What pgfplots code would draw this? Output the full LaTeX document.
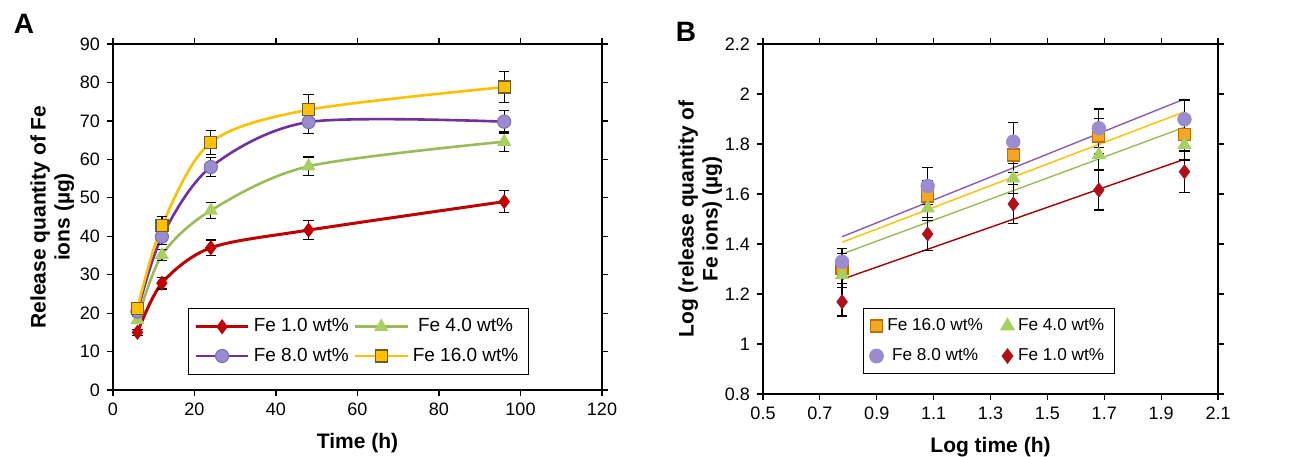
\documentclass[border=0pt]{standalone}
\usepackage{fontspec}
\setmainfont{Liberation Sans}
\usepackage{pgfplots}
\pgfplotsset{compat=1.18}

\definecolor{cred}{RGB}{192,0,0}
\definecolor{cpurple}{RGB}{112,48,160}
\definecolor{cpurplefill}{RGB}{155,140,210}
\definecolor{cgreen}{RGB}{155,187,89}
\definecolor{cgreenfill}{RGB}{168,208,96}
\definecolor{cyellow}{RGB}{255,192,0}
\definecolor{cyellowedge}{RGB}{110,95,40}
\definecolor{corange}{RGB}{245,166,35}
\definecolor{corangeedge}{RGB}{190,110,0}
\definecolor{cdiam}{RGB}{176,16,26}

\pgfplotsset{
  panel/.style={
    scale only axis,
    axis line style={line width=0.8pt},
    tick align=outside,
    tick style={black, line width=0.6pt},
    major tick length=3pt,
    font=\fontsize{9}{10}\selectfont,
    label style={font=\bfseries\fontsize{10.5}{12}\selectfont},
    ylabel style={align=center, yshift=-4pt},
    xlabel style={yshift=-2pt},
    /pgf/number format/assume math mode=true,
    legend style={draw=black, line width=0.6pt, font=\fontsize{9.5}{11}\selectfont,
      legend columns=2, row sep=2.5pt, inner ysep=3pt, inner xsep=3pt,
      /tikz/every even column/.append style={column sep=0.5pt}},
  },
  longline/.style={legend image code/.code={
    \draw[mark repeat=2,mark phase=2] plot coordinates {(0cm,0cm)(0.46cm,0cm)(0.92cm,0cm)};}},
  ebar/.style={error bars/.cd, y dir=both, y explicit,
    error bar style={black, line width=0.6pt},
    error mark options={black, rotate=90, mark size=2.6pt, line width=0.6pt}},
}

\begin{document}
\begin{tikzpicture}
\useasboundingbox (0,0) rectangle (653.5pt,-228pt);

\node[font=\bfseries\fontsize{14}{14}\selectfont] at (12pt,-12pt) {A};
\node[font=\bfseries\fontsize{14}{14}\selectfont] at (343pt,-16pt) {B};

% panel A
\begin{axis}[panel, longline,
  at={(56.5pt,-195pt)}, anchor=south west,
  width=244.5pt, height=173pt,
  xmin=0, xmax=120, ymin=0, ymax=90,
  xtick={0,20,...,120}, ytick={0,10,...,90},
  xlabel={Time (h)},
  ylabel={Release quantity of Fe\\ions (µg)},
  legend style={at={(0.153,0.237)}, anchor=north west},
]
\addplot[cred, line width=1.5pt, smooth, mark=diamond*, mark size=3.4pt,
  mark options={fill=cred, line width=0.5pt}, ebar] coordinates {
  (6,15) +- (0,0.8)
  (12,27.8) +- (0,1.5)
  (24,37) +- (0,2)
  (48,41.6) +- (0,2.5)
  (96,49) +- (0,2.9)
};
\addlegendentry{Fe 1.0 wt\%}
\addplot[cgreen, line width=1.3pt, smooth, mark=triangle*, mark size=3.6pt,
  mark options={fill=cgreenfill, draw=cgreenfill, line width=0.5pt}, ebar] coordinates {
  (6,18.2) +- (0,1)
  (12,35.1) +- (0,1.5)
  (24,46.7) +- (0,2)
  (48,58.2) +- (0,2.4)
  (96,64.6) +- (0,2.5)
};
\addlegendentry{Fe 4.0 wt\%}
\addplot[cpurple, line width=1.3pt, smooth, mark=*, mark size=3.3pt,
  mark options={fill=cpurplefill, draw=cpurplefill!80!black, line width=0.5pt}, ebar] coordinates {
  (6,20.4) +- (0,1)
  (12,39.9) +- (0,2)
  (24,58) +- (0,2.4)
  (48,69.7) +- (0,3)
  (96,69.8) +- (0,3)
};
\addlegendentry{Fe 8.0 wt\%}
\addplot[cyellow, line width=1.3pt, smooth, mark=square*, mark size=3pt,
  mark options={fill=cyellow, draw=cyellowedge, line width=0.6pt}, ebar] coordinates {
  (6,21.2) +- (0,1)
  (12,42.7) +- (0,2.4)
  (24,64.4) +- (0,3.2)
  (48,72.9) +- (0,4)
  (96,78.8) +- (0,4)
};
\addlegendentry{Fe 16.0 wt\%}
\end{axis}

% panel B
\begin{axis}[panel,
  at={(381.5pt,-197pt)}, anchor=south west,
  width=227.5pt, height=175pt,
  xmin=0.5, xmax=2.1, ymin=0.8, ymax=2.2,
  xtick={0.5,0.7,...,2.1}, ytick={0.8,1,...,2.2},
  xticklabel style={/pgf/number format/.cd, fixed, fixed zerofill, precision=1},
  xlabel={Log time (h)},
  ylabel={Log (release quantity of\\Fe ions) (µg)},
  ylabel style={yshift=-1.5pt},
  legend style={at={(0.22,0.246)}, anchor=north west,
    font=\fontsize{8.6}{10}\selectfont, row sep=3.5pt,
    /tikz/every even column/.append style={column sep=7pt}},
]
% trend lines
\addplot[cpurple!80, line width=0.7pt, forget plot] coordinates {(0.778,1.429) (1.982,1.980)};
\addplot[cyellow, line width=0.7pt, forget plot] coordinates {(0.778,1.407) (1.982,1.929)};
\addplot[cgreen, line width=0.7pt, forget plot] coordinates {(0.778,1.360) (1.982,1.867)};
\addplot[cred!85!black, line width=0.7pt, forget plot] coordinates {(0.778,1.259) (1.982,1.739)};

\addplot[only marks, mark=square*, mark size=3pt,
  mark options={fill=corange, draw=corangeedge, line width=0.6pt}, ebar] coordinates {
  (0.778,1.303) +- (0,0.06)
  (1.079,1.592) +- (0,0.06)
  (1.380,1.756) +- (0,0.07)
  (1.681,1.832) +- (0,0.07)
  (1.982,1.839) +- (0,0.07)
};
\addlegendentry{Fe 16.0 wt\%}
\addplot[only marks, mark=triangle*, mark size=3.8pt,
  mark options={fill=cgreenfill, draw=cgreenfill}, ebar] coordinates {
  (0.778,1.276) +- (0,0.05)
  (1.079,1.543) +- (0,0.05)
  (1.380,1.663) +- (0,0.06)
  (1.681,1.756) +- (0,0.06)
  (1.982,1.796) +- (0,0.06)
};
\addlegendentry{Fe 4.0 wt\%}
\addplot[only marks, mark=*, mark size=3.4pt,
  mark options={fill=cpurplefill, draw=cpurplefill}, ebar] coordinates {
  (0.778,1.329) +- (0,0.054)
  (1.079,1.632) +- (0,0.075)
  (1.380,1.809) +- (0,0.078)
  (1.681,1.863) +- (0,0.077)
  (1.982,1.899) +- (0,0.077)
};
\addlegendentry{Fe 8.0 wt\%}
\addplot[only marks, mark=diamond*, mark size=3.5pt,
  mark options={fill=cdiam, draw=cdiam}, ebar] coordinates {
  (0.778,1.169) +- (0,0.057)
  (1.079,1.440) +- (0,0.067)
  (1.380,1.560) +- (0,0.077)
  (1.681,1.616) +- (0,0.080)
  (1.982,1.689) +- (0,0.084)
};
\addlegendentry{Fe 1.0 wt\%}
\end{axis}
\end{tikzpicture}
\end{document}
